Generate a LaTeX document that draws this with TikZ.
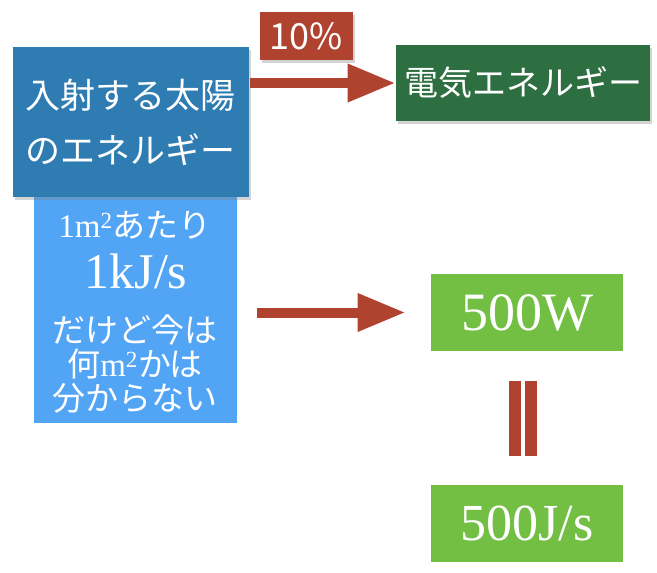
\documentclass[tikz,border=0pt]{standalone}
\usepackage{fontspec}
\setmainfont{Liberation Serif}
\newfontfamily\jpfont{Noto Sans CJK JP}
\usetikzlibrary{arrows.meta, positioning, shadows}
\definecolor{cdeepblue}{HTML}{2E7CB2}
\definecolor{cskyblue}{HTML}{52A5F5}
\definecolor{cdeepgreen}{HTML}{2E6F42}
\definecolor{cleafgreen}{HTML}{72BF44}
\definecolor{crust}{HTML}{B0432F}
\tikzset{
  every picture/.style={line width=1pt},
  box/.style={fill=#1, text=white, align=center, inner sep=0pt},
  box/.default=cdeepblue,
  lifted/.style={drop shadow={shadow xshift=2pt, shadow yshift=-3pt, opacity=0.35}},
  jptext/.style={text=white, align=center, inner sep=0pt, font=\jpfont\fontsize{#1}{#1}\selectfont},
  numtext/.style={font=\rmfamily\fontsize{#1}{#1}\selectfont},
  flow/.style={-{Triangle[length=48pt, width=36pt]}, draw=crust, line width=10pt},
  eqbar/.style={draw=crust, line width=11.5pt},
  pct/.style={box=crust, lifted, minimum width=93pt, minimum height=48pt, font=\jpfont\fontsize{36}{36}\selectfont},
}

\begin{document}
\begin{tikzpicture}[x=1pt, y=-1pt]
  \useasboundingbox (0,0) rectangle (657,573);
  \node[box=cskyblue, minimum width=203pt, minimum height=226pt] (perarea) at (135.5,309.5) {};
  \node[box, lifted, minimum width=236pt, minimum height=150pt, font=\jpfont\fontsize{35}{55}\selectfont] (sunlight) at (131,122) {入射する太陽\\のエネルギー};
  \node[box=cdeepgreen, lifted, minimum width=254pt, minimum height=76pt, font=\jpfont\fontsize{34}{34}\selectfont] (electric) at (523,83) {電気エネルギー};
  \node[box=cleafgreen, minimum width=192pt, minimum height=77pt, numtext=54] (watt) at (527,312.5) {500W};
  \node[box=cleafgreen, minimum width=192pt, minimum height=77pt, numtext=52] (joule) at (527,523.5) {500J/s};
  \node[jptext=33] (perline) at (135,225) {{\rmfamily 1m\textsuperscript{2}}あたり};
  \node[text=white, inner sep=0pt, numtext=50] (perrate) at (136,271) {1kJ/s};
  \node[jptext=34, font=\jpfont\fontsize{33}{34}\selectfont] (unknown) at (135,364) {だけど今は\\何{\rmfamily m\textsuperscript{2}}かは\\分からない};
  \draw[flow] (sunlight.east |- electric) -- (electric.west) node[pct, pos=0.39, above=18pt] (share) {10\%};
  \draw[flow, shorten <=19pt, shorten >=25pt] (perarea.east |- watt) -- (watt.west);
  \foreach \s in {-12,4} \draw[eqbar, shorten <=29pt, shorten >=29pt] ([xshift=\s pt]watt.south) -- ([xshift=\s pt]joule.north);
\end{tikzpicture}
\end{document}
